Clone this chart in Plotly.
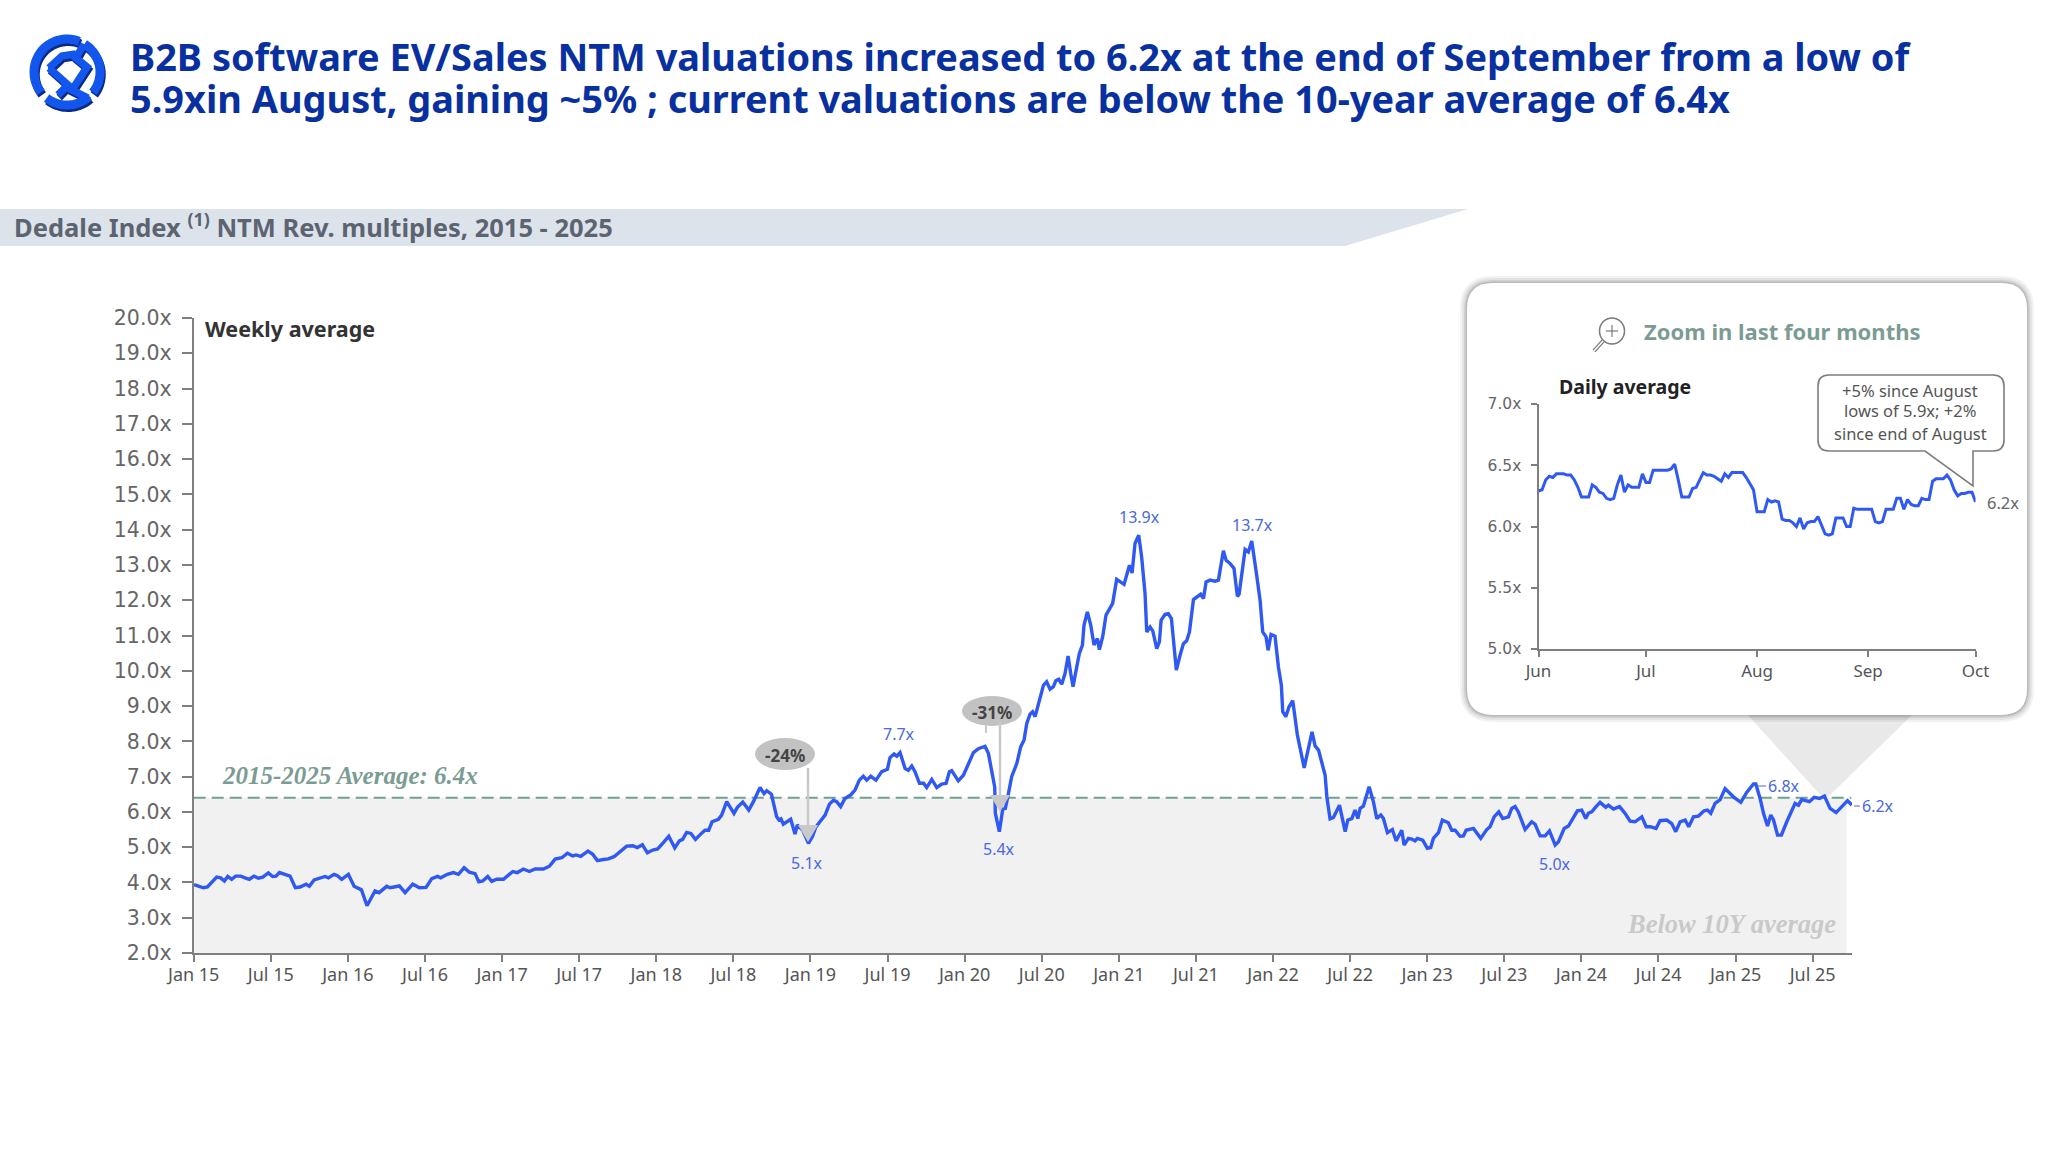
import numpy as np
import plotly.graph_objects as go

W, H = 2048, 1160

# weekly series, years since Jan 2015 / EV/Sales NTM multiple
years_since_2015 = [
    0.002, 0.037, 0.063, 0.089, 0.117, 0.149, 0.175, 0.199, 0.221, 0.246,
    0.272, 0.305, 0.333, 0.361, 0.391, 0.419, 0.448, 0.484, 0.512, 0.534,
    0.556, 0.586, 0.625, 0.659, 0.690, 0.729, 0.750, 0.781, 0.824, 0.852,
    0.874, 0.910, 0.932, 0.960, 1.003, 1.040, 1.088, 1.124, 1.176, 1.202,
    1.252, 1.274, 1.334, 1.371, 1.421, 1.464, 1.507, 1.544, 1.581, 1.602,
    1.645, 1.684, 1.717, 1.754, 1.788, 1.825, 1.849, 1.875, 1.907, 1.933,
    1.965, 2.009, 2.069, 2.099, 2.138, 2.177, 2.214, 2.268, 2.307, 2.344,
    2.387, 2.424, 2.458, 2.480, 2.510, 2.557, 2.588, 2.618, 2.657, 2.689,
    2.726, 2.769, 2.808, 2.847, 2.877, 2.910, 2.942, 2.977, 3.009, 3.046,
    3.081, 3.120, 3.150, 3.171, 3.197, 3.225, 3.254, 3.288, 3.316, 3.340,
    3.362, 3.403, 3.424, 3.457, 3.504, 3.526, 3.561, 3.600, 3.630, 3.673,
    3.699, 3.716, 3.747, 3.781, 3.796, 3.809, 3.824, 3.872, 3.900, 3.915,
    3.950, 3.987, 4.013, 4.036, 4.095, 4.123, 4.149, 4.170, 4.196, 4.224,
    4.261, 4.289, 4.317, 4.343, 4.365, 4.391, 4.425, 4.462, 4.499, 4.516,
    4.542, 4.560, 4.581, 4.614, 4.635, 4.657, 4.678, 4.707, 4.733, 4.754,
    4.787, 4.819, 4.851, 4.880, 4.901, 4.916, 4.959, 4.992, 5.024, 5.057,
    5.089, 5.132, 5.154, 5.176, 5.195, 5.199, 5.212, 5.225, 5.247, 5.264,
    5.284, 5.305, 5.338, 5.364, 5.385, 5.403, 5.424, 5.441, 5.457, 5.485,
    5.511, 5.532, 5.554, 5.576, 5.591, 5.610, 5.630, 5.651, 5.671, 5.688,
    5.703, 5.727, 5.744, 5.764, 5.774, 5.796, 5.818, 5.839, 5.861, 5.874,
    5.895, 5.917, 5.939, 5.960, 5.986, 6.008, 6.034, 6.069, 6.086, 6.105,
    6.129, 6.148, 6.170, 6.181, 6.203, 6.220, 6.246, 6.263, 6.274, 6.300,
    6.321, 6.341, 6.354, 6.373, 6.397, 6.419, 6.440, 6.458, 6.484, 6.505,
    6.531, 6.549, 6.566, 6.592, 6.624, 6.646, 6.678, 6.696, 6.721, 6.747,
    6.769, 6.780, 6.801, 6.819, 6.840, 6.862, 6.894, 6.916, 6.933, 6.955,
    6.968, 6.987, 7.013, 7.035, 7.054, 7.063, 7.083, 7.104, 7.128, 7.158,
    7.202, 7.230, 7.253, 7.273, 7.295, 7.338, 7.349, 7.370, 7.392, 7.431,
    7.468, 7.485, 7.511, 7.532, 7.550, 7.565, 7.586, 7.623, 7.651, 7.673,
    7.699, 7.716, 7.742, 7.774, 7.798, 7.835, 7.850, 7.878, 7.900, 7.921,
    7.936, 7.971, 8.001, 8.023, 8.040, 8.073, 8.098, 8.137, 8.159, 8.181,
    8.213, 8.235, 8.252, 8.300, 8.326, 8.347, 8.386, 8.408, 8.434, 8.464,
    8.490, 8.527, 8.548, 8.570, 8.591, 8.635, 8.678, 8.700, 8.732, 8.765,
    8.793, 8.830, 8.851, 8.888, 8.916, 8.948, 8.974, 9.002, 9.028, 9.045,
    9.067, 9.095, 9.121, 9.158, 9.175, 9.208, 9.247, 9.283, 9.316, 9.348,
    9.392, 9.420, 9.446, 9.484, 9.510, 9.554, 9.586, 9.612, 9.640, 9.673,
    9.696, 9.727, 9.759, 9.796, 9.817, 9.839, 9.867, 9.900, 9.932, 9.964,
    9.990, 10.034, 10.072, 10.116, 10.131, 10.159, 10.181, 10.207, 10.228, 10.246,
    10.272, 10.297, 10.332, 10.386, 10.408, 10.429, 10.479, 10.509, 10.544, 10.576,
    10.613, 10.652, 10.689, 10.726, 10.754,
]
weekly_multiples = [
    3.94, 3.89, 3.85, 3.87, 4.01, 4.15, 4.13, 4.04, 4.17, 4.09,
    4.18, 4.18, 4.13, 4.09, 4.18, 4.12, 4.15, 4.27, 4.17, 4.18,
    4.28, 4.23, 4.18, 3.85, 3.87, 3.95, 3.89, 4.07, 4.12, 4.17,
    4.13, 4.23, 4.19, 4.09, 4.23, 3.89, 3.79, 3.34, 3.76, 3.71,
    3.89, 3.85, 3.90, 3.71, 3.95, 3.85, 3.86, 4.11, 4.17, 4.13,
    4.23, 4.28, 4.23, 4.42, 4.29, 4.25, 4.02, 4.04, 4.17, 4.03,
    4.09, 4.09, 4.31, 4.28, 4.38, 4.31, 4.38, 4.38, 4.46, 4.66,
    4.70, 4.83, 4.75, 4.78, 4.74, 4.89, 4.80, 4.62, 4.65, 4.67,
    4.73, 4.90, 5.03, 5.04, 4.99, 5.07, 4.84, 4.92, 4.95, 5.13,
    5.31, 4.98, 5.18, 5.22, 5.42, 5.39, 5.22, 5.37, 5.48, 5.48,
    5.72, 5.79, 5.91, 6.29, 5.96, 6.13, 6.28, 6.05, 6.29, 6.69,
    6.52, 6.60, 6.50, 5.86, 5.77, 5.80, 5.65, 5.79, 5.37, 5.63,
    5.48, 5.11, 5.30, 5.58, 5.91, 6.22, 6.33, 6.29, 6.15, 6.38,
    6.48, 6.62, 6.90, 7.01, 6.90, 7.01, 6.90, 7.14, 7.21, 7.54,
    7.64, 7.58, 7.68, 7.23, 7.18, 7.30, 7.14, 6.81, 6.81, 6.69,
    6.92, 6.69, 6.79, 6.81, 7.14, 7.17, 6.88, 7.04, 7.37, 7.68,
    7.79, 7.86, 7.66, 7.14, 6.71, 5.96, 5.63, 5.44, 6.08, 6.10,
    6.52, 7.00, 7.37, 7.85, 8.03, 8.51, 8.77, 8.84, 8.70, 9.12,
    9.59, 9.69, 9.48, 9.55, 9.72, 9.76, 9.62, 9.92, 10.42, 9.92,
    9.55, 10.11, 10.49, 10.73, 11.29, 11.67, 11.29, 10.73, 10.91, 10.60,
    10.96, 11.58, 11.76, 11.91, 12.59, 12.52, 12.45, 12.99, 12.77, 13.61,
    13.84, 13.23, 12.19, 11.10, 11.24, 11.13, 10.63, 10.82, 11.43, 11.60,
    11.62, 11.48, 10.77, 10.02, 10.44, 10.77, 10.85, 11.10, 12.02, 12.08,
    12.17, 12.05, 12.52, 12.57, 12.54, 12.57, 13.40, 13.13, 13.04, 12.90,
    12.11, 12.17, 12.94, 13.44, 13.37, 13.68, 12.71, 12.00, 11.10, 10.96,
    10.58, 11.03, 10.98, 10.11, 9.59, 8.84, 8.70, 8.98, 9.15, 8.18,
    7.25, 7.85, 8.27, 7.87, 7.75, 7.04, 6.43, 5.80, 5.84, 6.19,
    5.44, 5.77, 5.81, 6.05, 5.81, 6.10, 6.16, 6.71, 6.29, 5.81,
    5.91, 5.81, 5.41, 5.50, 5.18, 5.48, 5.06, 5.25, 5.23, 5.18,
    5.25, 5.20, 4.97, 4.99, 5.25, 5.41, 5.77, 5.69, 5.48, 5.48,
    5.31, 5.32, 5.48, 5.53, 5.39, 5.25, 5.50, 5.58, 5.86, 6.00,
    5.81, 5.86, 6.10, 6.15, 6.00, 5.50, 5.72, 5.65, 5.32, 5.32,
    5.46, 5.06, 5.15, 5.53, 5.60, 5.86, 6.03, 6.05, 5.81, 5.96,
    6.00, 6.15, 6.27, 6.13, 6.19, 6.08, 6.15, 5.96, 5.74, 5.72,
    5.86, 5.58, 5.58, 5.53, 5.75, 5.77, 5.67, 5.44, 5.72, 5.77,
    5.58, 5.86, 5.88, 6.03, 6.05, 5.96, 6.24, 6.35, 6.66, 6.52,
    6.41, 6.27, 6.55, 6.79, 6.79, 6.38, 5.96, 5.60, 5.91, 5.77,
    5.34, 5.34, 5.72, 6.24, 6.19, 6.35, 6.29, 6.41, 6.38, 6.45,
    6.10, 5.98, 6.15, 6.32, 6.19,
]
average_multiple = 6.4

# daily series for the zoom card, days since 1 June 2025
zoom_days = list(range(123))
zoom_multiples = [
    6.29, 6.30, 6.38, 6.41, 6.40, 6.43, 6.43, 6.43, 6.42, 6.42,
    6.38, 6.32, 6.24, 6.24, 6.24, 6.34, 6.32, 6.28, 6.27, 6.23,
    6.22, 6.23, 6.34, 6.42, 6.28, 6.34, 6.32, 6.32, 6.32, 6.43,
    6.36, 6.36, 6.46, 6.46, 6.46, 6.46, 6.46, 6.47, 6.51, 6.38,
    6.24, 6.24, 6.24, 6.31, 6.32, 6.38, 6.44, 6.42, 6.42, 6.41,
    6.39, 6.37, 6.43, 6.40, 6.44, 6.44, 6.44, 6.44, 6.40, 6.35,
    6.30, 6.12, 6.12, 6.12, 6.22, 6.20, 6.21, 6.20, 6.06, 6.05,
    6.05, 6.03, 6.00, 6.07, 5.98, 6.03, 6.04, 6.04, 6.08, 6.01,
    5.94, 5.93, 5.94, 6.07, 6.07, 6.07, 6.00, 6.00, 6.15, 6.14,
    6.14, 6.14, 6.14, 6.14, 6.04, 6.03, 6.04, 6.14, 6.14, 6.14,
    6.23, 6.23, 6.14, 6.22, 6.18, 6.17, 6.17, 6.23, 6.22, 6.22,
    6.37, 6.39, 6.39, 6.39, 6.42, 6.38, 6.30, 6.25, 6.27, 6.27,
    6.28, 6.28, 6.20,
]

main_y_ticks = list(range(2, 21))
main_y_labels = [f"{v:.1f}x" for v in main_y_ticks]
main_x_ticks = [2015 + 0.5 * i for i in range(22)]
main_x_labels = ["Jan 15", "Jul 15", "Jan 16", "Jul 16", "Jan 17", "Jul 17", "Jan 18", "Jul 18",
                 "Jan 19", "Jul 19", "Jan 20", "Jul 20", "Jan 21", "Jul 21", "Jan 22", "Jul 22",
                 "Jan 23", "Jul 23", "Jan 24", "Jul 24", "Jan 25", "Jul 25"]
zoom_y_ticks = [5.0, 5.5, 6.0, 6.5, 7.0]
zoom_y_labels = ["5.0x", "5.5x", "6.0x", "6.5x", "7.0x"]
zoom_x_ticks = [0, 30, 61, 92, 122]
zoom_x_labels = ["Jun", "Jul", "Aug", "Sep", "Oct"]

BLUE = "#2f59f2"
NAVY = "#08309e"
SAGE = "#7b9c92"
FONT = "Noto Sans"
SERIF = "Liberation Serif"


def fx(px):
    return px / W


def fy(py):
    return 1 - py / H


def poly(points, close=True):
    # pixel points -> svg path in paper coordinates
    s = "M" + " L".join(f"{fx(x):.5f},{fy(y):.5f}" for x, y in points)
    return s + (" Z" if close else "")


def rounded(x0, y0, x1, y1, r):
    return (f"M{fx(x0 + r):.5f},{fy(y0):.5f} L{fx(x1 - r):.5f},{fy(y0):.5f} "
            f"Q{fx(x1):.5f},{fy(y0):.5f} {fx(x1):.5f},{fy(y0 + r):.5f} "
            f"L{fx(x1):.5f},{fy(y1 - r):.5f} Q{fx(x1):.5f},{fy(y1):.5f} {fx(x1 - r):.5f},{fy(y1):.5f} "
            f"L{fx(x0 + r):.5f},{fy(y1):.5f} Q{fx(x0):.5f},{fy(y1):.5f} {fx(x0):.5f},{fy(y1 - r):.5f} "
            f"L{fx(x0):.5f},{fy(y0 + r):.5f} Q{fx(x0):.5f},{fy(y0):.5f} {fx(x0 + r):.5f},{fy(y0):.5f} Z")


def arc(cx, cy, r, a0, a1, n=30):
    t = np.radians(np.linspace(a0, a1, n))
    return list(zip(cx + r * np.cos(t), cy - r * np.sin(t)))


shapes = []


def add_path(path, fill=None, line=None, width=0, opacity=1.0, layer="below"):
    shapes.append(dict(type="path", path=path, xref="paper", yref="paper",
                       fillcolor=fill or "rgba(0,0,0,0)", opacity=opacity, layer=layer,
                       line=dict(color=line or "rgba(0,0,0,0)", width=width)))


def add_seg(x0, y0, x1, y1, color, width, layer="below"):
    shapes.append(dict(type="line", xref="paper", yref="paper", layer=layer,
                       x0=fx(x0), y0=fy(y0), x1=fx(x1), y1=fy(y1),
                       line=dict(color=color, width=width)))


def add_oval(cx, cy, rx, ry, fill=None, line=None, width=0):
    shapes.append(dict(type="circle", xref="paper", yref="paper", layer="below",
                       x0=fx(cx - rx), y0=fy(cy + ry), x1=fx(cx + rx), y1=fy(cy - ry),
                       fillcolor=fill or "rgba(0,0,0,0)",
                       line=dict(color=line or "rgba(0,0,0,0)", width=width)))


# logo
for dx, col in ((2.5, "#0b2a86"), (0, "#1256ee")):
    for a0, a1 in ((68, 218), (232, 312), (-38, 58)):
        add_path(poly([(x + dx * 0.5, y + dx) for x, y in arc(67, 72, 33, a0, a1)], close=False),
                 line=col, width=9)
    add_path(poly([(x + dx * 0.5, y + dx) for x, y in [(84, 44), (76, 58), (87, 67), (72, 90), (88, 98)]],
                  close=False), line=col, width=7.5)
    add_path(poly([(x + dx * 0.5, y + dx) for x, y in [(49, 68), (62, 56), (76, 54)]], close=False),
             line=col, width=7.5)
    add_path(poly([(x + dx * 0.5, y + dx) for x, y in [(49, 68), (68, 85), (58, 95)]], close=False),
             line=col, width=7.5)

# section banner
add_path(poly([(0, 209), (1468, 209), (1345, 246), (0, 246)]), fill="#dde3ea")

# shaded area below the average
shapes.append(dict(type="rect", xref="x", yref="y", layer="below", x0=2015, x1=2025.72,
                   y0=2, y1=average_multiple, fillcolor="#f1f1f2", line=dict(width=0)))

# card pointer, shadow, card
add_path(poly([(1745, 712), (1915, 712), (1825, 800)]), fill="#e9e9e9")
for spread, alpha in ((7, 0.05), (5, 0.06), (3, 0.08), (1.5, 0.10)):
    add_path(rounded(1467 - spread, 283 - spread, 2027 + spread, 715 + spread, 26 + spread),
             fill="#000000", opacity=alpha)
add_path(rounded(1467, 283, 2027, 715, 26), fill="#ffffff")

# drawdown ovals and leaders, above the shaded area
add_seg(808, 768, 808, 830, "#c9c9c9", 2.5, layer="above")
add_path(poly([(798, 825), (818, 825), (808, 842)]), fill="#c9c9c9", layer="above")
add_oval(785, 754, 30, 16, fill="#c2c2c2")
add_seg(986, 722, 986, 733, "#c9c9c9", 2)
add_seg(1000, 722, 1000, 800, "#c9c9c9", 2.5, layer="above")
add_path(poly([(990, 795), (1010, 795), (1000, 812)]), fill="#c9c9c9", layer="above")
add_oval(992, 711, 30, 15, fill="#c2c2c2")

# leaders for the end labels
add_seg(1758, 786, 1766, 786, "#8a9bd8", 1.5)
add_seg(1854, 806, 1860, 806, "#8a9bd8", 1.5)

# magnifier
add_oval(1612, 331, 12.5, 13, fill="#ffffff", line="#7a7a7a", width=1.5)
add_seg(1606, 331, 1618, 331, "#7a7a7a", 1.2)
add_seg(1612, 325, 1612, 337, "#7a7a7a", 1.2)
add_seg(1603, 341, 1594, 351, "#7a7a7a", 4)
add_seg(1603, 341, 1594, 351, "#ffffff", 1.5)

# callout box with tail
bx0, by0, bx1, by1, br = 1818, 375, 2004, 451, 11
callout = (f"M{fx(bx0 + br):.5f},{fy(by0):.5f} L{fx(bx1 - br):.5f},{fy(by0):.5f} "
           f"Q{fx(bx1):.5f},{fy(by0):.5f} {fx(bx1):.5f},{fy(by0 + br):.5f} "
           f"L{fx(bx1):.5f},{fy(by1 - br):.5f} Q{fx(bx1):.5f},{fy(by1):.5f} {fx(bx1 - br):.5f},{fy(by1):.5f} "
           f"L{fx(1973):.5f},{fy(by1):.5f} L{fx(1973):.5f},{fy(486):.5f} L{fx(1925):.5f},{fy(by1):.5f} "
           f"L{fx(bx0 + br):.5f},{fy(by1):.5f} Q{fx(bx0):.5f},{fy(by1):.5f} {fx(bx0):.5f},{fy(by1 - br):.5f} "
           f"L{fx(bx0):.5f},{fy(by0 + br):.5f} Q{fx(bx0):.5f},{fy(by0):.5f} {fx(bx0 + br):.5f},{fy(by0):.5f} Z")
add_path(callout, fill="#ffffff", line="#7d7d7d", width=1.6)


def note(text, x, y, size, color, anchor="center", weight=400, style="normal", family=FONT):
    return dict(text=text, x=fx(x), y=fy(y), xref="paper", yref="paper", showarrow=False,
                xanchor=anchor, yanchor="middle", align=anchor if anchor != "center" else "center",
                font=dict(size=size, color=color, family=family, weight=weight, style=style))


annotations = [
    note("B2B software EV/Sales NTM valuations increased to 6.2x at the end of September from a low of",
         128, 56, 37.9, NAVY, "left", 700),
    note("5.9xin August, gaining ~5% ; current valuations are below the 10-year average of 6.4x",
         128, 98, 37.9, NAVY, "left", 700),
    note("Dedale Index <sup>(1)</sup> NTM Rev. multiples, 2015 - 2025", 12, 225, 25.5, "#5c6472", "left", 700),
    note("Weekly average", 203, 328, 21.5, "#333333", "left", 700),
    note("2015-2025 Average: 6.4x", 220, 775, 25, SAGE, "left", 700, "italic", SERIF),
    note("Below 10Y average", 1838, 924, 26.5, "#c9c9c9", "right", 700, "italic", SERIF),
    note("-24%", 785, 755, 17, "#444444", weight=700),
    note("-31%", 992, 712, 17, "#444444", weight=700),
    note("13.9x", 1139, 517, 16, "#4a68e0"),
    note("13.7x", 1252, 525, 16, "#4a68e0"),
    note("7.7x", 899, 734, 16, "#4a68e0"),
    note("5.1x", 807, 863, 16, "#4a68e0"),
    note("5.4x", 999, 849, 16, "#4a68e0"),
    note("5.0x", 1555, 864, 16, "#4a68e0"),
    note("6.8x", 1784, 786, 16, "#4a68e0"),
    note("6.2x", 1878, 806, 16, "#4a68e0"),
    note("Zoom in last four months", 1642, 331, 22, SAGE, "left", 700),
    note("Daily average", 1557, 387, 19.5, "#222222", "left", 700),
    note("+5% since August", 1910, 390, 16.5, "#555555"),
    note("lows of 5.9x; +2%", 1910, 411, 16.5, "#555555"),
    note("since end of August", 1910, 433, 16.5, "#555555"),
    note("6.2x", 2003, 502, 16.5, "#666666"),
]

fig = go.Figure()
fig.add_trace(go.Scatter(x=[2015, 2025.75], y=[average_multiple, average_multiple], mode="lines",
                         line=dict(color="#6fa193", width=2, dash="12px,6px"),
                         xaxis="x", yaxis="y", hoverinfo="skip"))
fig.add_trace(go.Scatter(x=[2015 + t for t in years_since_2015], y=weekly_multiples, mode="lines",
                         line=dict(color=BLUE, width=3.4), xaxis="x", yaxis="y"))
fig.add_trace(go.Scatter(x=zoom_days, y=zoom_multiples, mode="lines",
                         line=dict(color=BLUE, width=3), xaxis="x2", yaxis="y2"))

axis_style = dict(showline=True, linecolor="#7f7f7f", linewidth=2, showgrid=False, zeroline=False,
                  ticks="outside", tickcolor="#7f7f7f", tickwidth=1.5, automargin=False)
fig.update_layout(
    width=W, height=H, margin=dict(l=0, r=0, t=0, b=0), showlegend=False,
    paper_bgcolor="#ffffff", plot_bgcolor="rgba(0,0,0,0)",
    font=dict(family=FONT, color="#555555"),
    shapes=shapes, annotations=annotations,
    xaxis=dict(domain=[fx(193.7), fx(1852)], range=[2015, 2025.755], anchor="y",
               tickmode="array", tickvals=main_x_ticks, ticktext=main_x_labels,
               ticklen=7, tickfont=dict(size=18), ticklabelstandoff=-3, **axis_style),
    yaxis=dict(domain=[fy(953), fy(318)], range=[2, 20], anchor="x",
               tickmode="array", tickvals=main_y_ticks, ticktext=main_y_labels,
               ticklen=10, tickfont=dict(size=20.5, family="DejaVu Sans", color="#666666"),
               ticklabelstandoff=6, **axis_style),
    xaxis2=dict(domain=[fx(1538.5), fx(1975.6)], range=[0, 122], anchor="y2",
                tickmode="array", tickvals=zoom_x_ticks, ticktext=zoom_x_labels,
                ticklen=6, tickfont=dict(size=17), **axis_style),
    yaxis2=dict(domain=[fy(649), fy(404)], range=[5, 7], anchor="x2",
                tickmode="array", tickvals=zoom_y_ticks, ticktext=zoom_y_labels,
                ticklen=6, tickfont=dict(size=15.5, family="DejaVu Sans", color="#666666"),
                ticklabelstandoff=6, **axis_style),
)

# page body has a default margin that would shift the figure
fig.write_html("out.html", config=dict(displayModeBar=False),
               post_script="document.body.style.margin='0';")
